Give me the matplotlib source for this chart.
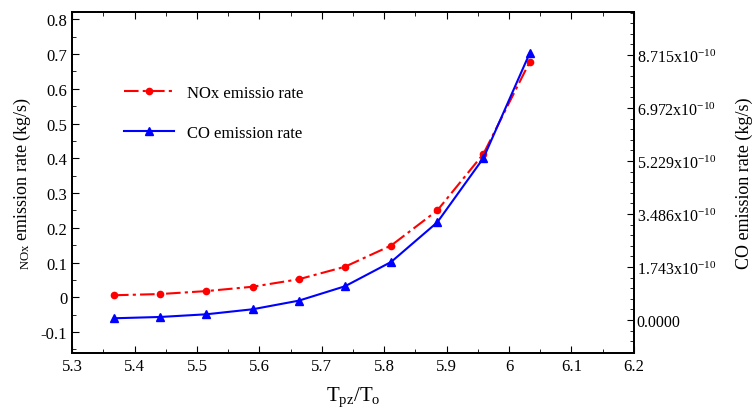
import matplotlib.pyplot as plt
from matplotlib.ticker import MultipleLocator, AutoMinorLocator, FixedLocator

plt.rcParams['font.family'] = ['Liberation Serif', 'DejaVu Serif']
plt.rcParams['mathtext.fontset'] = 'custom'
plt.rcParams['mathtext.rm'] = 'Liberation Serif'
plt.rcParams['mathtext.it'] = 'Liberation Serif:italic'

# data
t_ratio = [5.367, 5.441, 5.515, 5.589, 5.663, 5.737, 5.811, 5.885, 5.959, 6.033]
nox_rate = [0.006, 0.0095, 0.018, 0.0305, 0.052, 0.088, 0.149, 0.250, 0.413, 0.677]
co_rate = [0.056, 0.099, 0.187, 0.352, 0.635, 1.108, 1.908, 3.213, 5.328, 8.772]  # x1e-10
co_ticks = [0.0, 1.743, 3.486, 5.229, 6.972, 8.715]
co_tick_labels = ['0.0000', '1.743x10$^{-10}$', '3.486x10$^{-10}$',
                  '5.229x10$^{-10}$', '6.972x10$^{-10}$', '8.715x10$^{-10}$']

fig = plt.figure(figsize=(7.56, 4.14), dpi=100)
ax = fig.add_axes([0.0955, 0.145, 0.743, 0.823])
ax2 = ax.twinx()

l1, = ax.plot(t_ratio, nox_rate, color='red', lw=1.5, ls=(0, (7, 2, 1.5, 2)),
              marker='o', ms=4.5, label='NOx emissio rate')
l2, = ax2.plot(t_ratio, co_rate, color='blue', lw=1.5, ls='-',
               marker='^', ms=5.5, label='CO emission rate')

ax.set_xlim(5.3, 6.2)
ax.set_ylim(-0.16, 0.82)
ax2.set_ylim(-1.085, 10.12)

ax.xaxis.set_major_locator(MultipleLocator(0.1))
ax.xaxis.set_minor_locator(AutoMinorLocator(2))
ax.yaxis.set_major_locator(MultipleLocator(0.1))
ax.yaxis.set_minor_locator(AutoMinorLocator(2))
ax.xaxis.set_major_formatter(plt.FuncFormatter(lambda v, p: f'{round(v, 1):g}'))
ax.yaxis.set_major_formatter(plt.FuncFormatter(lambda v, p: '0' if abs(v) < 1e-9 else f'{v:.1f}'))

ax2.yaxis.set_major_locator(FixedLocator(co_ticks))
ax2.set_yticklabels(co_tick_labels)
ax2.yaxis.set_minor_locator(AutoMinorLocator(5))

ax.tick_params(which='both', direction='in', top=True, labelsize=12)
ax.tick_params(which='major', length=5)
ax.tick_params(which='minor', length=3)
ax2.tick_params(which='both', direction='in', labelsize=11.5)
ax2.tick_params(which='major', length=5, pad=2)
ax2.tick_params(which='minor', length=3)

for a in (ax, ax2):
    for s in a.spines.values():
        s.set_linewidth(1.3)

ax.set_xlabel(r'T$_{\mathregular{pz}}$/T$_{\mathregular{o}}$', fontsize=15, labelpad=8)
ax.set_ylabel(r'$_{\mathregular{NOx}}$ emission rate (kg/s)', fontsize=13, labelpad=6)
ax2.set_ylabel('CO emission rate (kg/s)', fontsize=13, labelpad=14)

ax.legend(handles=[l1, l2], loc='upper left', bbox_to_anchor=(0.065, 0.83),
          frameon=False, fontsize=12, handlelength=3, labelspacing=1.4,
          numpoints=1)

fig.savefig('out.png', dpi=100)
